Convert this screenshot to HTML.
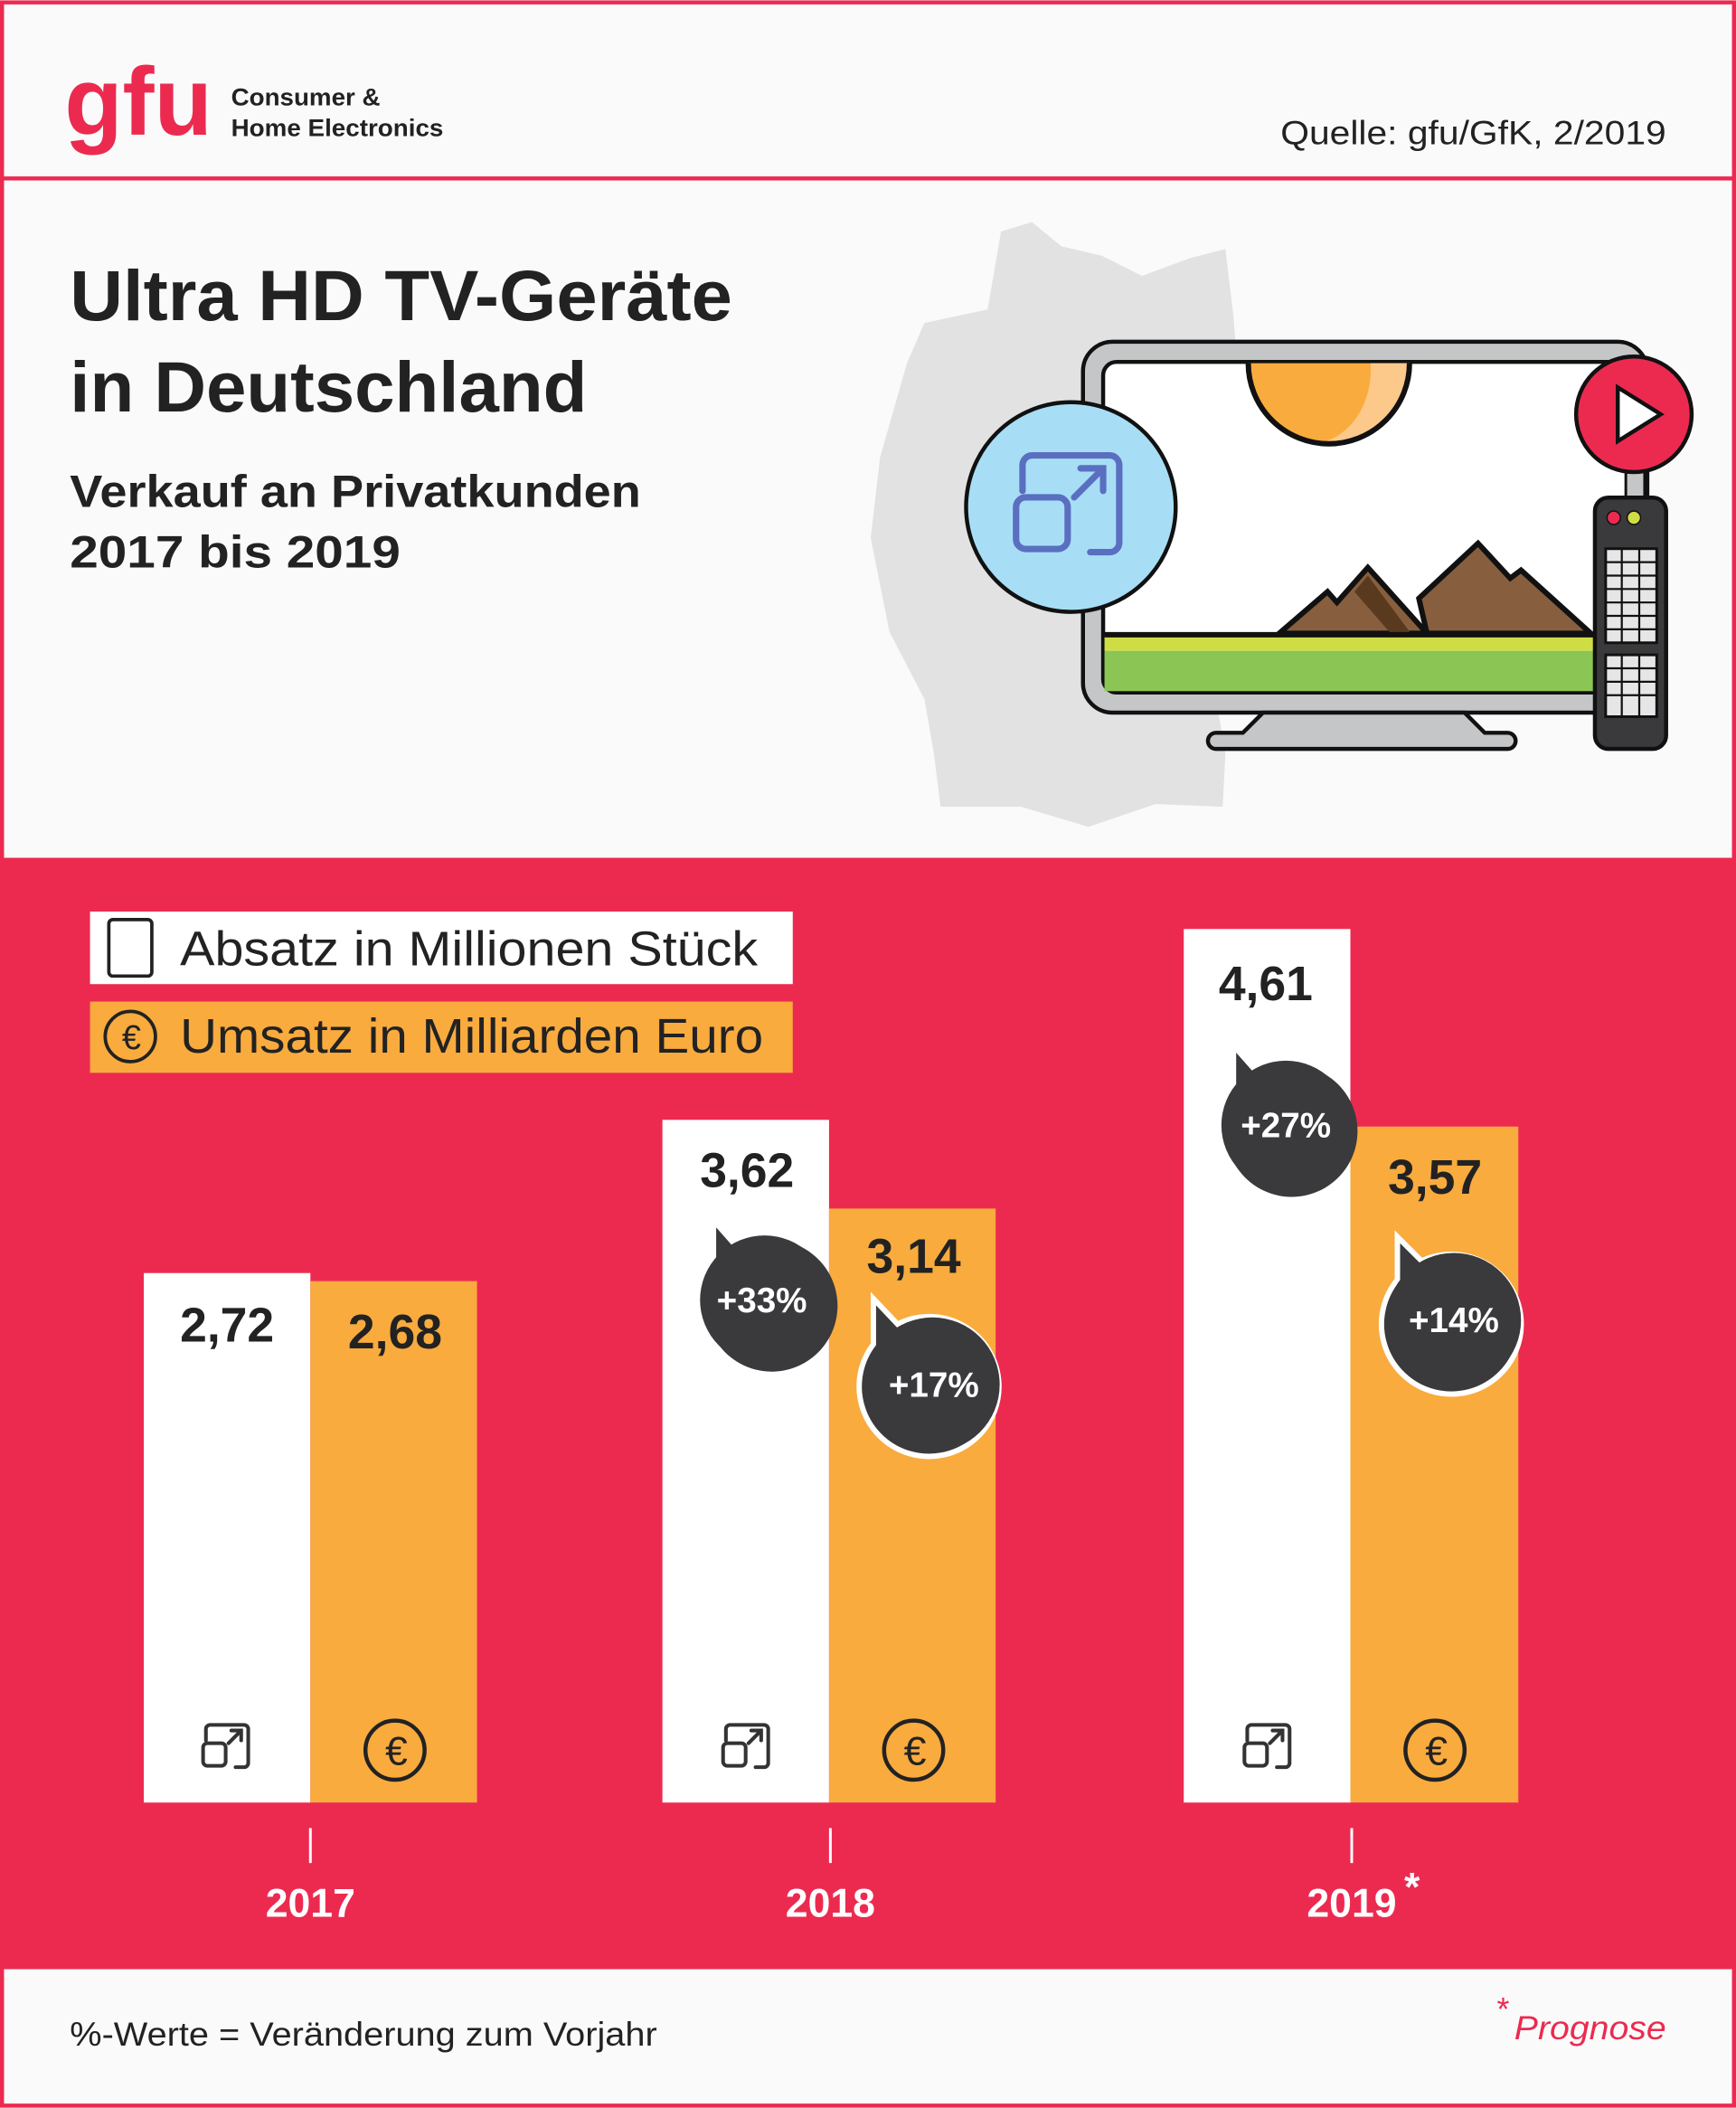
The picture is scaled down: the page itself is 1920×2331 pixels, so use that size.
<!DOCTYPE html>
<html><head><meta charset="utf-8"><style>
html,body{margin:0;padding:0;background:#fafafa}
svg{display:block}
text{font-family:"Liberation Sans",sans-serif}
</style></head><body>
<svg width="1920" height="2331" viewBox="0 0 1292 1568" xmlns="http://www.w3.org/2000/svg">
<defs>
<g id="res"><path d="M-15,-5 v-8 a3,3 0 0 1 3,-3 h24 a3,3 0 0 1 3,3 v24 a3,3 0 0 1 -3,3 h-6" fill="none" stroke="#333" stroke-width="2.6" stroke-linecap="round"/><rect x="-17" y="-3" width="16" height="16" rx="3" fill="none" stroke="#333" stroke-width="2.6"/><path d="M1,-3 l9,-9 M3,-12 h7 v7" fill="none" stroke="#333" stroke-width="2.6" stroke-linecap="round"/></g>
<g id="eur"><circle r="22" fill="none" stroke="#222" stroke-width="3"/><text x="1" y="11" text-anchor="middle" font-size="30" fill="#222">€</text></g>
</defs>
<rect width="1292" height="1568" fill="#ec2a50"/>
<rect x="3" y="3" width="1286" height="128" fill="#fafafa"/>
<rect x="3" y="134" width="1286" height="504" fill="#fafafa"/>
<rect x="3" y="1465" width="1286" height="100" fill="#fafafa"/>
<!-- header -->
<text x="48" y="100" font-size="72" font-weight="bold" fill="#ec2a50" textLength="110" lengthAdjust="spacingAndGlyphs">gfu</text>
<text x="172" y="78" font-size="18" font-weight="bold" fill="#222" textLength="111" lengthAdjust="spacingAndGlyphs">Consumer &amp;</text>
<text x="172" y="101" font-size="18" font-weight="bold" fill="#222" textLength="158" lengthAdjust="spacingAndGlyphs">Home Electronics</text>
<text x="953" y="107" font-size="25" fill="#222" textLength="287" lengthAdjust="spacingAndGlyphs">Quelle: gfu/GfK, 2/2019</text>
<!-- titles -->
<text x="52" y="238" font-size="53" font-weight="bold" fill="#222" textLength="493" lengthAdjust="spacingAndGlyphs">Ultra HD TV-Geräte</text>
<text x="52" y="306" font-size="53" font-weight="bold" fill="#222" textLength="385" lengthAdjust="spacingAndGlyphs">in Deutschland</text>
<text x="52" y="377" font-size="34" font-weight="bold" fill="#222" textLength="425" lengthAdjust="spacingAndGlyphs">Verkauf an Privatkunden</text>
<text x="52" y="422" font-size="34" font-weight="bold" fill="#222" textLength="246" lengthAdjust="spacingAndGlyphs">2017 bis 2019</text>
<!-- map -->
<path d="M745,172 L768,165 L790,183 L820,190 L850,205 L885,192 L912,185 L918,235 L925,330 L905,400 L915,470 L905,520 L912,560 L910,600 L860,598 L810,615 L760,600 L700,600 L695,560 L688,520 L662,470 L648,400 L655,340 L675,270 L688,240 L735,230 Z" fill="#e2e2e2"/>
<!-- TV -->
<rect x="806" y="254" width="420" height="276" rx="22" fill="#c5c6c8" stroke="#111" stroke-width="3"/>
<rect x="821" y="269" width="390" height="246" rx="10" fill="#fff" stroke="#111" stroke-width="3"/>
<path d="M929,270 a60,60 0 0 0 120,0 Z" fill="#f9ab3e"/>
<path d="M1020,270 h29 a60,60 0 0 1 -62,58 a45,55 0 0 0 33,-58 Z" fill="#fcc98a"/>
<path d="M929,270 a60,60 0 0 0 120,0" fill="none" stroke="#111" stroke-width="4"/>
<path d="M952,471 L988,440 L995,448 L1018,422 L1062,471 Z" fill="#875f3e" stroke="#111" stroke-width="4"/>
<path d="M1018,428 L1050,471 L1035,471 L1008,440 Z" fill="#5a3a1e"/>
<path d="M1056,445 L1100,404 L1124,430 L1132,424 L1184,471 L1062,471 Z" fill="#875f3e" stroke="#111" stroke-width="4"/>
<rect x="822" y="472" width="388" height="12" fill="#cfdd45"/>
<rect x="822" y="484" width="388" height="30" fill="#8bc553"/>
<line x1="822" y1="472" x2="1210" y2="472" stroke="#111" stroke-width="4"/>
<path d="M940,530 L925,545 L905,545 a6,6 0 0 0 0,12 L1122,557 a6,6 0 0 0 0,-12 L1105,545 L1090,530 Z" fill="#c5c6c8" stroke="#111" stroke-width="3"/>
<circle cx="797" cy="377" r="78" fill="#a7def6" stroke="#111" stroke-width="3"/>
<g transform="translate(797,377) scale(2.4)" ><path d="M-15,-5 v-8 a3,3 0 0 1 3,-3 h24 a3,3 0 0 1 3,3 v24 a3,3 0 0 1 -3,3 h-6" fill="none" stroke="#5a6fc0" stroke-width="2" stroke-linecap="round"/><rect x="-17" y="-3" width="16" height="16" rx="3" fill="none" stroke="#5a6fc0" stroke-width="2"/><path d="M1,-3 l9,-9 M3,-12 h7 v7" fill="none" stroke="#5a6fc0" stroke-width="2" stroke-linecap="round"/></g>
<rect x="1210" y="345" width="14" height="30" fill="#c5c6c8" stroke="#111" stroke-width="2"/>
<circle cx="1216" cy="308" r="43" fill="#ec2a50" stroke="#111" stroke-width="3"/>
<path d="M1204,288 L1236,308 L1204,328 Z" fill="#fff" stroke="#111" stroke-width="3"/>
<rect x="1187" y="370" width="53" height="187" rx="10" fill="#3a3a3c" stroke="#111" stroke-width="3"/>
<circle cx="1201" cy="385" r="5" fill="#ec2a50" stroke="#111"/><circle cx="1216" cy="385" r="5" fill="#cfdd45" stroke="#111"/>
<rect x="1195" y="408" width="38" height="70" fill="#e6e6e6" stroke="#111" stroke-width="2"/>
<rect x="1195" y="487" width="38" height="46" fill="#e6e6e6" stroke="#111" stroke-width="2"/>
<path d="M1207,408 v70 M1220,408 v70 M1207,487 v46 M1220,487 v46 M1195,418 h38 M1195,428 h38 M1195,438 h38 M1195,448 h38 M1195,458 h38 M1195,468 h38 M1195,497 h38 M1195,507 h38 M1195,517 h38" stroke="#111" stroke-width="1.5"/>
<!-- legend -->
<rect x="67" y="678" width="523" height="54" fill="#fff"/>
<rect x="81" y="684" width="32" height="42" rx="3" fill="none" stroke="#222" stroke-width="2.5"/>
<text x="134" y="718" font-size="36" fill="#222" textLength="430" lengthAdjust="spacingAndGlyphs">Absatz in Millionen Stück</text>
<rect x="67" y="745" width="523" height="53" fill="#f9ab3e"/>
<use href="#eur" transform="translate(97,771) scale(0.85)"/>
<text x="134" y="783" font-size="36" fill="#222" textLength="434" lengthAdjust="spacingAndGlyphs">Umsatz in Milliarden Euro</text>
<!-- bars -->
<rect x="107" y="947" width="124" height="394" fill="#fff"/>
<rect x="231" y="953" width="124" height="388" fill="#f9ab3e"/>
<rect x="493" y="833" width="124" height="508" fill="#fff"/>
<rect x="617" y="899" width="124" height="442" fill="#f9ab3e"/>
<rect x="881" y="691" width="124" height="650" fill="#fff"/>
<rect x="1005" y="838" width="125" height="503" fill="#f9ab3e"/>
<g font-size="36" font-weight="bold" fill="#222" text-anchor="middle">
<text x="169" y="998">2,72</text><text x="294" y="1003">2,68</text>
<text x="556" y="883">3,62</text><text x="680" y="947">3,14</text>
<text x="942" y="744">4,61</text><text x="1068" y="888">3,57</text>
</g>
<!-- bubbles -->
<g fill="#3a3a3c" stroke="#fff" stroke-width="4">
<path d="M533,913 L548,930 A49,49 0 1 1 533,945 Z" stroke="none"/><circle cx="569" cy="967" r="48" stroke="none"/>
<path d="M650,966 L668,985 A52,52 0 1 1 650,1000 Z"/><circle cx="694" cy="1030" r="50" stroke="none"/>
<path d="M920,783 L935,800 A49,49 0 1 1 920,815 Z" stroke="none"/><circle cx="957" cy="837" r="48" stroke="none"/>
<path d="M1040,920 L1058,938 A52,52 0 1 1 1040,952 Z"/><circle cx="1082" cy="982" r="50" stroke="none"/>
</g>
<g font-size="26" font-weight="bold" fill="#fff" text-anchor="middle">
<text x="567" y="976">+33%</text><text x="695" y="1039">+17%</text>
<text x="957" y="846">+27%</text><text x="1082" y="991">+14%</text>
</g>
<!-- icons -->
<use href="#res" transform="translate(169,1300) scale(1.05)"/>
<use href="#res" transform="translate(556,1300) scale(1.05)"/>
<use href="#res" transform="translate(944,1300) scale(1.05)"/>
<use href="#eur" transform="translate(294,1302)"/>
<use href="#eur" transform="translate(680,1302)"/>
<use href="#eur" transform="translate(1068,1302)"/>
<!-- axis -->
<g stroke="#fff" stroke-width="2"><line x1="231" y1="1360" x2="231" y2="1386"/><line x1="618" y1="1360" x2="618" y2="1386"/><line x1="1006" y1="1360" x2="1006" y2="1386"/></g>
<g font-size="30" font-weight="bold" fill="#fff" text-anchor="middle">
<text x="231" y="1426">2017</text><text x="618" y="1426">2018</text><text x="1006" y="1426">2019</text>
</g>
<text x="1045" y="1414" font-size="30" font-weight="bold" fill="#fff">*</text>
<!-- footer -->
<text x="52" y="1522" font-size="25" fill="#222" textLength="437" lengthAdjust="spacingAndGlyphs">%-Werte = Veränderung zum Vorjahr</text>
<text x="1114" y="1503" font-size="24" fill="#ec2a50">*</text>
<text x="1127" y="1517" font-size="25" font-style="italic" fill="#ec2a50" textLength="113" lengthAdjust="spacingAndGlyphs">Prognose</text>
</svg>
</body></html>
